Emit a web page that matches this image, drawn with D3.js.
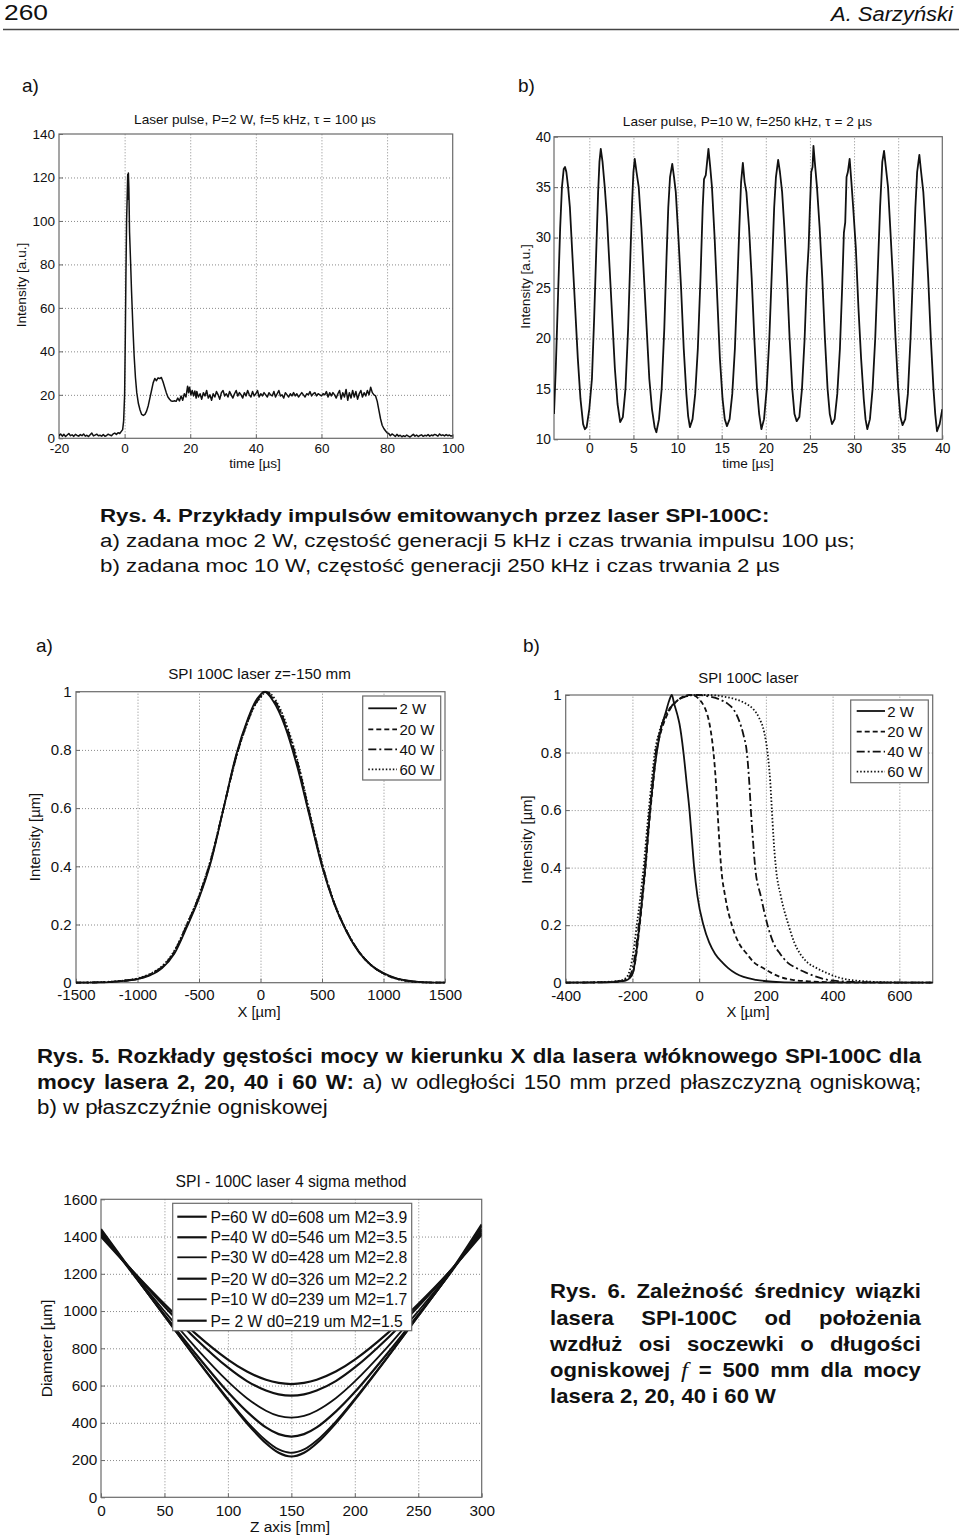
<!DOCTYPE html>
<html><head><meta charset="utf-8">
<script src="https://cdn.jsdelivr.net/npm/d3@7"></script>
<style>body{margin:0;background:#fff}</style>
</head><body>
<script>
// ---------------- DATA ----------------
// Rys. 4a  pulse: [time µs, intensity a.u.]
const pulseA = [[-20,1.2],[-19.5,2],[-19,1],[-18.5,1.8],[-18,0.8],[-17.5,1.5],[-17,2.2],[-16.5,1.2],[-16,1.6],[-15.5,0.9],[-15,1.8],[-14.5,1.3],[-14,1],[-13.5,1.7],[-13,1.2],[-12.5,2],[-12,1],[-11.5,1.4],[-11,0.8],[-10.5,1.6],[-10,2.4],[-9.5,1.1],[-9,1.5],[-8.5,1.9],[-8,1.2],[-7.5,1.4],[-7,1],[-6.5,1.7],[-6,0.9],[-5.5,1.3],[-5,1.9],[-4.5,1.5],[-4,1.2],[-3.5,2],[-3,2.4],[-2.5,1.8],[-2,2.6],[-1.5,2.2],[-1,3.2],[-0.6,4],
[-0.3,8],[0,20],[0.2,45],[0.4,75],[0.6,100],[0.8,112],[0.95,121.5],[1.05,110],[1.15,122],[1.3,115],[1.5,95],[1.8,82],[2.1,68],[2.5,52],[2.9,38],[3.3,28],[3.7,21],[4.2,16],[4.7,13],[5.2,11],[5.7,10.5],[6.2,11],[6.7,12.5],[7.2,15],[7.7,18.5],[8.2,22],[8.7,25.5],[9.2,27.5],[9.7,26.5],[10.2,27.8],[10.7,27.5],[11.2,28],[11.7,26],[12.2,23.5],[12.7,21],[13.2,19],[13.7,18],[14.2,17.2],[14.7,17],[15.2,17.3],[15.7,17],[16.2,18.5],[16.7,17.2],[17.2,19.5],[17.7,17.5],[18.2,20.5],[18.7,19],[19.2,24],[19.5,21],[19.8,23.5],[20.2,20],[20.6,22],[21,19.5],[21.4,21.8],[21.8,18.5],
[22,21.5],[22.5,19],[23,20.5],[23.5,18],[24,21],[24.5,19.5],[25,22],[25.5,18.5],[26,20],[26.5,17.5],[27,20.5],[27.5,19],[28,21.5],[28.5,20],[29,18],[29.5,21],[30,22],[30.5,19.5],[31,20.5],[31.5,19],[32,21.5],[32.5,20],[33,18.5],[33.5,20.5],[34,22],[34.5,19.5],[35,21],[35.5,20],[36,18.5],[36.5,21],[37,19.5],[37.5,22],[38,20],[38.5,19],[39,21.5],[39.5,19.5],[40,20.5],[40.5,22],[41,19],[41.5,20.5],[42,19.5],[42.5,21],[43,20],[43.5,19],[44,21],[44.5,20],[45,19.5],[45.5,21.5],[46,19],[46.5,20.5],[47,22],[47.5,19.5],[48,20],[48.5,18.5],[49,21],[49.5,20],[50,19],[50.5,20.5],[51,19.5],[51.5,21],[52,19.5],[52.5,20.5],[53,19],[53.5,20],[54,21],[54.5,20],[55,19],[55.5,20.5],[56,20],[56.5,21.5],[57,19.5],[57.5,20.5],[58,21],[58.5,19.5],[59,20.5],[59.5,20],[60,19.5],[60.5,20.5],[61,20],[61.5,21.5],[62,19],[62.5,21],[63,19.5],[63.5,21],[64,20],[64.5,18.5],[65,20.5],[65.5,22],[66,18],[66.5,21],[67,19],[67.5,22.5],[68,17.5],[68.5,21],[69,18.5],[69.5,22],[70,19],[70.5,21.5],[71,18],[71.5,20.5],[72,22],[72.5,19],[73,21],[73.5,19.5],[74,22],[74.5,20],[75,23.5],[75.5,21],[76,20],[76.5,19.5],[77,17],[77.5,13],[78,9],[78.5,6],[79,4.5],[79.5,3.5],[80,2.5],[80.5,2.2],[81,1.2],[81.5,2],[82,1.5],[82.5,0.8],[83,1.8],[83.5,1],[84,1.4],[84.5,0.7],[85,1.2],[85.5,0.8],[86,1.5],[86.5,1],[87,0.6],[87.5,1.2],[88,1.8],[88.5,1],[89,1.5],[89.5,0.8],[90,1.3],[90.5,1.6],[91,0.9],[91.5,1.4],[92,1.1],[92.5,1.7],[93,1],[93.5,1.5],[94,1.2],[94.5,1.8],[95,1.5],[95.5,1],[96,2],[96.5,1.3],[97,1.6],[97.5,1.1],[98,1.7],[98.5,1.2],[99,1.5],[99.5,1],[100,1.3]];

// Rys. 4b pulse train
const pulseB = [[-4,12.5],[-3.8,17],[-3.55,24],[-3.3,31],[-3.1,35],[-2.9,36.8],[-2.75,37],[-2.6,36.5],[-2.4,35],[-2.2,33],[-1.9,28],[-1.6,23],[-1.3,18],[-1,14],[-0.7,11.5],[-0.5,11],[-0.3,11.2],
[0,13],[0.3,16],[0.55,22],[0.8,29],[1,34.5],[1.15,37.5],[1.3,38.8],[1.5,37.5],[1.75,35],[2,32],[2.3,27],[2.6,22],[2.9,17],[3.2,13.5],[3.5,11.7],
[3.8,12.2],[4.1,15],[4.4,21],[4.65,28],[4.85,33.5],[5,36.5],[5.15,37.8],[5.35,36.5],[5.6,35],[5.9,31],[6.2,26],[6.5,21],[6.8,16],[7.1,13],[7.4,11.2],[7.6,10.7],
[7.9,12],[8.2,15],[8.5,21],[8.75,28],[8.95,33],[9.15,36],[9.4,37.3],[9.6,36],[9.8,34.5],[10.1,30],[10.4,25],[10.7,19],[11,14.5],[11.2,12.3],[11.4,11.2],
[11.7,12],[12,14.5],[12.3,19],[12.6,26],[12.85,33],[13,35.8],[13.2,36.2],[13.35,37.5],[13.5,38.8],[13.7,37],[13.9,35],[14.2,30],[14.5,24],[14.8,18],[15.1,14],[15.35,12],[15.6,11.3],
[15.9,12],[16.2,14.5],[16.5,19],[16.8,26],[17,31],[17.2,35.5],[17.4,37.4],[17.6,35.5],[17.8,34.5],[18.1,31],[18.4,26],[18.7,20],[19,15],[19.25,12.5],[19.5,11],
[19.8,12],[20.1,15],[20.4,20],[20.7,27],[20.95,33],[21.15,36],[21.4,37.7],[21.6,36.5],[21.85,34.5],[22.1,31],[22.4,26],[22.7,20],[23,15],[23.25,12.5],[23.5,11.8],
[23.8,12.2],[24.1,15],[24.4,20],[24.65,26],[24.85,29],[25,33],[25.15,36.5],[25.3,37],[25.4,39.1],[25.55,37.5],[25.8,35],[26.1,31],[26.4,26],[26.7,20],[27,15],[27.25,12.5],[27.5,11.5],
[27.8,12],[28.1,14.5],[28.4,19],[28.65,25],[28.85,30.5],[29,31.5],[29.15,36],[29.3,36.5],[29.5,37.8],[29.7,35.5],[29.9,33],[30.2,29],[30.5,23],[30.8,18],[31.1,14],[31.3,12],[31.5,11],
[31.8,12],[32.1,15],[32.4,20],[32.7,27],[32.95,33],[33.2,37.5],[33.4,38.6],[33.6,37],[33.85,35],[34.1,31],[34.4,26],[34.7,20],[35,15],[35.25,12.2],[35.5,11.4],
[35.8,12],[36.1,14.5],[36.4,20],[36.7,27],[36.95,33],[37.15,36.5],[37.4,38.2],[37.6,36.5],[37.85,34.5],[38.1,31],[38.4,26],[38.7,20],[39,15],[39.2,12.5],[39.4,10.8],[39.7,11.5],[40,13]];

// Rys. 5a profiles (X µm, normalized intensity)
const profA2 = [[-1500,0],[-1300,0.001],[-1200,0.003],[-1100,0.006],[-1000,0.012],[-900,0.025],[-800,0.05],[-700,0.1],[-600,0.19],[-500,0.29],[-400,0.42],[-300,0.6],[-200,0.78],[-100,0.91],[-50,0.96],[0,0.99],[30,1],[100,0.97],[200,0.88],[300,0.74],[400,0.57],[500,0.4],[600,0.27],[700,0.175],[800,0.105],[900,0.06],[1000,0.033],[1100,0.016],[1200,0.007],[1300,0.002],[1400,0.0005],[1500,0]];
const profA20 = [[-1500,0],[-1300,0.001],[-1200,0.003],[-1100,0.007],[-1000,0.013],[-900,0.027],[-800,0.053],[-700,0.104],[-600,0.195],[-500,0.295],[-400,0.425],[-300,0.6],[-200,0.775],[-100,0.905],[-50,0.955],[0,0.985],[35,1],[100,0.975],[200,0.885],[300,0.75],[400,0.575],[500,0.405],[600,0.272],[700,0.177],[800,0.106],[900,0.06],[1000,0.032],[1100,0.015],[1200,0.006],[1300,0.002],[1400,0.0005],[1500,0]];
const profA40 = [[-1500,0],[-1300,0.0015],[-1200,0.0035],[-1100,0.0075],[-1000,0.014],[-900,0.028],[-800,0.055],[-700,0.107],[-600,0.198],[-500,0.298],[-400,0.428],[-300,0.6],[-200,0.772],[-100,0.902],[-50,0.952],[0,0.982],[40,1],[100,0.98],[200,0.892],[300,0.758],[400,0.58],[500,0.408],[600,0.274],[700,0.178],[800,0.107],[900,0.06],[1000,0.031],[1100,0.015],[1200,0.006],[1300,0.0018],[1400,0.0004],[1500,0]];
const profA60 = [[-1500,0],[-1300,0.002],[-1200,0.004],[-1100,0.008],[-1000,0.015],[-900,0.03],[-800,0.057],[-700,0.11],[-600,0.2],[-500,0.3],[-400,0.43],[-300,0.6],[-200,0.77],[-100,0.9],[-50,0.95],[0,0.98],[45,1],[100,0.985],[200,0.9],[300,0.765],[400,0.585],[500,0.41],[600,0.275],[700,0.178],[800,0.107],[900,0.06],[1000,0.031],[1100,0.014],[1200,0.005],[1300,0.0015],[1400,0.0003],[1500,0]];

// Rys. 5b profiles in focal plane
const profB2 = [[-400,0],[-300,0.001],[-250,0.003],[-220,0.008],[-200,0.03],[-190,0.09],[-180,0.19],[-170,0.3],[-160,0.42],[-150,0.56],[-140,0.68],[-127,0.8],[-115,0.88],[-100,0.94],[-90,0.98],[-82,1],[-75,0.97],[-65,0.93],[-59,0.9],[-47,0.8],[-38,0.7],[-29,0.6],[-22,0.5],[-15,0.4],[-5,0.3],[13,0.2],[30,0.14],[48,0.1],[70,0.07],[88,0.05],[110,0.032],[133,0.02],[170,0.01],[203,0.005],[243,0.002],[300,0.0005],[400,0],[700,0]];
const profB20 = [[-400,0],[-300,0.001],[-250,0.003],[-220,0.008],[-200,0.03],[-190,0.085],[-180,0.18],[-170,0.29],[-160,0.41],[-150,0.55],[-140,0.67],[-128,0.8],[-115,0.87],[-100,0.92],[-85,0.955],[-70,0.975],[-55,0.99],[-40,0.998],[-30,1],[-15,0.998],[0,0.985],[15,0.96],[25,0.93],[31,0.9],[38,0.85],[43,0.8],[50,0.7],[55,0.6],[60,0.5],[66,0.4],[78,0.3],[98,0.2],[118,0.14],[143,0.1],[165,0.07],[193,0.05],[215,0.035],[243,0.02],[280,0.01],[323,0.005],[380,0.002],[450,0.0005],[550,0],[700,0]];
const profB40 = [[-400,0],[-300,0.001],[-250,0.004],[-220,0.01],[-205,0.03],[-193,0.09],[-183,0.18],[-172,0.29],[-162,0.41],[-152,0.55],[-142,0.67],[-130,0.8],[-118,0.87],[-100,0.93],[-80,0.965],[-60,0.985],[-40,0.995],[-20,1],[0,1],[30,0.995],[60,0.985],[85,0.97],[103,0.95],[120,0.91],[133,0.86],[143,0.8],[150,0.7],[155,0.6],[161,0.5],[168,0.4],[185,0.3],[205,0.2],[222,0.14],[243,0.1],[265,0.07],[293,0.05],[320,0.035],[353,0.02],[385,0.01],[423,0.005],[480,0.002],[550,0.0005],[650,0],[700,0]];
const profB60 = [[-400,0],[-300,0.002],[-250,0.005],[-225,0.012],[-210,0.035],[-198,0.1],[-187,0.2],[-176,0.3],[-165,0.42],[-155,0.55],[-145,0.67],[-133,0.8],[-120,0.87],[-100,0.93],[-80,0.965],[-60,0.985],[-40,0.995],[-10,1],[30,1],[70,0.995],[110,0.985],[140,0.97],[163,0.95],[180,0.92],[195,0.87],[205,0.8],[213,0.7],[218,0.6],[223,0.5],[230,0.4],[245,0.3],[268,0.2],[285,0.14],[303,0.1],[325,0.07],[353,0.05],[380,0.035],[413,0.02],[450,0.01],[493,0.005],[543,0.002],[600,0.0005],[650,0],[700,0]];

// Rys. 6 beam diameter vs z
const zAxis = [0,25,50,75,100,115,130,140,150,160,170,185,200,225,250,275,300];
const diam60 = [1400,1214,1038,876,739,675,631,614,608,614,631,675,739,876,1038,1214,1410];
const diam40 = [1410,1214,1025,849,697,624,573,553,546,553,573,624,697,849,1025,1214,1420];
const diam30 = [1420,1206,999,801,622,532,465,437,428,437,465,532,622,801,999,1206,1430];
const diam20 = [1425,1201,981,767,565,460,375,339,326,339,375,460,565,767,981,1201,1440];
const diam10 = [1435,1203,973,746,529,407,305,257,239,257,305,407,529,746,973,1203,1455];
const diam2  = [1440,1206,974,745,523,398,290,239,219,239,290,398,523,745,974,1206,1465];
const diamLegend = ["P=60 W d0=608 um M2=3.9","P=40 W d0=546 um M2=3.5","P=30 W d0=428 um M2=2.8","P=20 W d0=326 um M2=2.2","P=10 W d0=239 um M2=1.7","P= 2 W d0=219 um M2=1.5"];
const powerLegend = ["2 W","20 W","40 W","60 W"];

// tick values
const ticks4aX = [-20,0,20,40,60,80,100], ticks4aY = [0,20,40,60,80,100,120,140];
const ticks4bX = [0,5,10,15,20,25,30,35,40], ticks4bY = [10,15,20,25,30,35,40];
const ticks5aX = [-1500,-1000,-500,0,500,1000,1500], ticks5Y = [0,0.2,0.4,0.6,0.8,1];
const ticks5bX = [-400,-200,0,200,400,600];
const ticks6X = [0,50,100,150,200,250,300], ticks6Y = [0,200,400,600,800,1000,1200,1400,1600];

// ---------------- DRAWING ----------------
const FONT = "'Liberation Sans', Arial, Helvetica, sans-serif";
const INK = "#111";
const svg = d3.select("body").append("svg").attr("width",960).attr("height",1540)
  .attr("font-family",FONT);
svg.append("rect").attr("width",960).attr("height",1540).attr("fill","#fff");

function tline(x, y, segs, size, mode, width, sxIn) {
  const t = svg.append("text").attr("x",0).attr("y",0).attr("font-size",size)
    .attr("fill",INK).style("white-space","pre");
  segs.forEach(s => {
    const ts = t.append("tspan").text(s.t);
    if (s.b) ts.attr("font-weight","bold");
    if (s.i) ts.attr("font-style","italic");
    if (s.f) ts.attr("font-family", s.f);
    if (s.fs) ts.attr("font-size", s.fs);
  });
  const w = t.node().getComputedTextLength();
  let sx = sxIn || 1;
  if (mode === "fit") sx = width / w;
  if (mode === "justify") {
    const n = segs.map(s => s.t).join("").split(" ").length - 1;
    t.style("word-spacing", ((width / sx - w) / n) + "px");
  }
  t.attr("transform", `translate(${x},${y}) scale(${sx},1)`);
  return sx;
}

let clipN = 0;
function panel(p) {
  const x = d3.scaleLinear().domain(p.xd).range([p.x0, p.x1]);
  const y = d3.scaleLinear().domain(p.yd).range([p.y1, p.y0]);
  const W = p.x1 - p.x0, H = p.y1 - p.y0;
  const g = svg.append("g");
  const gridStyle = s => { s.select(".domain").remove();
    s.selectAll("line").attr("stroke","#8a8a8a").attr("stroke-width",1).attr("stroke-dasharray","1,2"); };
  g.append("g").attr("transform",`translate(0,${p.y1})`)
    .call(d3.axisBottom(x).tickValues(p.gx).tickSize(-H).tickFormat("")).call(gridStyle);
  g.append("g").attr("transform",`translate(${p.x0},0)`)
    .call(d3.axisLeft(y).tickValues(p.gy).tickSize(-W).tickFormat("")).call(gridStyle);
  g.append("rect").attr("x",p.x0).attr("y",p.y0).attr("width",W).attr("height",H)
    .attr("fill","none").attr("stroke","#6a6a6a").attr("stroke-width",1.2);
  const fmt = d => String(d);
  const xa = g.append("g").attr("transform",`translate(0,${p.y1})`)
    .call(d3.axisBottom(x).tickValues(p.xt).tickSizeInner(-4).tickSizeOuter(0).tickPadding(p.xpad).tickFormat(fmt));
  const ya = g.append("g").attr("transform",`translate(${p.x0},0)`)
    .call(d3.axisLeft(y).tickValues(p.yt).tickSizeInner(-4).tickSizeOuter(0).tickPadding(p.ypad).tickFormat(fmt));
  [xa, ya].forEach(a => {
    a.select(".domain").remove();
    a.selectAll("line").attr("stroke","#6a6a6a");
    a.attr("font-size", p.fs).attr("font-family", FONT);
    a.selectAll("text").attr("fill", INK);
  });
  const id = "clip" + (++clipN);
  svg.append("clipPath").attr("id", id).append("rect")
    .attr("x",p.x0).attr("y",p.y0 - 1).attr("width",W).attr("height",H + 2);
  const plot = g.append("g").attr("clip-path",`url(#${id})`);
  g.append("text").attr("x",p.titleX).attr("y",p.titleY).attr("text-anchor","middle")
    .attr("font-size",p.titleFs).attr("fill",INK).text(p.title);
  g.append("text").attr("x",p.xlabX).attr("y",p.xlabY).attr("text-anchor","middle")
    .attr("font-size",p.labFs).attr("fill",INK).text(p.xlab);
  g.append("text").attr("transform",`translate(${p.ylabX},${p.ylabY}) rotate(-90)`)
    .attr("text-anchor","middle").attr("font-size",p.labFs).attr("fill",INK).text(p.ylab);
  return {x, y, g, plot};
}

// ---- page header ----
tline(4, 20, [{t:"260"}], 22, "fit", 44);
tline(831, 20.5, [{t:"A. Sarzyński", i:true}], 21, "fit", 122);
svg.append("line").attr("x1",3).attr("x2",959).attr("y1",29.5).attr("y2",29.5)
  .attr("stroke","#444").attr("stroke-width",1.3);
svg.append("text").attr("x",22).attr("y",92).attr("font-size",19).attr("fill",INK).text("a)");
svg.append("text").attr("x",518).attr("y",92).attr("font-size",19).attr("fill",INK).text("b)");

// ---- Rys 4a ----
{
  const P = panel({x0:59, x1:452.7, y0:134, y1:438.3, xd:[-20,100], yd:[0,140],
    gx:[0,20,40,60,80], gy:[20,40,60,80,100,120], xt:ticks4aX, yt:ticks4aY,
    xpad:5.2, ypad:4, fs:13.5,
    title:"Laser pulse, P=2 W, f=5 kHz, τ = 100 µs", titleX:255, titleY:123.5, titleFs:13.6,
    xlab:"time [µs]", xlabX:255, xlabY:467.5, ylab:"Intensity [a.u.]", ylabX:25.5, ylabY:285, labFs:13.6});
  P.plot.append("path").datum(pulseA).attr("fill","none").attr("stroke","#111").attr("stroke-width",1.5)
    .attr("stroke-linejoin","round")
    .attr("d", d3.line().x(d => P.x(d[0])).y(d => P.y(d[1])));
}
// ---- Rys 4b ----
{
  const P = panel({x0:554, x1:942.3, y0:136.7, y1:439.3, xd:[-4,40], yd:[10,40],
    gx:[0,5,10,15,20,25,30,35], gy:[15,20,25,30,35], xt:ticks4bX, yt:ticks4bY,
    xpad:4.2, ypad:3, fs:13.8,
    title:"Laser pulse, P=10 W, f=250 kHz, τ = 2 µs", titleX:747.5, titleY:125.5, titleFs:13.6,
    xlab:"time [µs]", xlabX:748, xlabY:467.5, ylab:"Intensity [a.u.]", ylabX:530, ylabY:286.5, labFs:13.6});
  P.plot.append("path").datum(pulseB).attr("fill","none").attr("stroke","#111").attr("stroke-width",1.8)
    .attr("stroke-linejoin","round")
    .attr("d", d3.line().x(d => P.x(d[0])).y(d => P.y(d[1])));
}

// ---- Rys 4 caption ----
tline(100, 521.5, [{t:"Rys. 4. Przykłady impulsów emitowanych przez laser SPI-100C:", b:true}], 19, "fit", 670);
tline(100, 546.5, [{t:"a) zadana moc 2 W, częstość generacji 5 kHz i czas trwania impulsu 100 µs;"}], 19, "fit", 755);
tline(100, 571.5, [{t:"b) zadana moc 10 W, częstość generacji 250 kHz i czas trwania 2 µs"}], 19, "fit", 680);

svg.append("text").attr("x",36).attr("y",652).attr("font-size",19).attr("fill",INK).text("a)");
svg.append("text").attr("x",523).attr("y",652).attr("font-size",19).attr("fill",INK).text("b)");

const dashes = ["none","5,3","8,3,2,3","1.5,2"];

// ---- Rys 5a ----
{
  const P = panel({x0:76, x1:445, y0:691.7, y1:982.7, xd:[-1500,1500], yd:[0,1],
    gx:[-1000,-500,0,500,1000], gy:[0.2,0.4,0.6,0.8], xt:ticks5aX, yt:ticks5Y,
    xpad:6.6, ypad:4.3, fs:15,
    title:"SPI 100C laser z=-150 mm", titleX:259.5, titleY:679, titleFs:15.2,
    xlab:"X [µm]", xlabX:259, xlabY:1016.5, ylab:"Intensity [µm]", ylabX:40.3, ylabY:837, labFs:14.8});
  const line = d3.line().curve(d3.curveMonotoneX).x(d => P.x(d[0])).y(d => P.y(d[1]));
  [profA60, profA40, profA20, profA2].forEach((s, i) => {
    P.plot.append("path").datum(s).attr("fill","none").attr("stroke","#111").attr("stroke-width",1.8)
      .attr("stroke-dasharray", dashes[3 - i]).attr("d", line);
  });
  const L = P.g.append("g");
  L.append("rect").attr("x",362.7).attr("y",696).attr("width",78).attr("height",84)
    .attr("fill","#fff").attr("stroke","#6a6a6a").attr("stroke-width",1.2);
  powerLegend.forEach((t, i) => {
    const ly = [708.3,729.3,749.3,769.3][i];
    L.append("line").attr("x1",368.3).attr("x2",397).attr("y1",ly).attr("y2",ly)
      .attr("stroke","#111").attr("stroke-width",1.8).attr("stroke-dasharray",dashes[i]);
    L.append("text").attr("x",399.5).attr("y",ly + 5.7).attr("font-size",15).attr("fill",INK).text(t);
  });
}
// ---- Rys 5b ----
{
  const P = panel({x0:565.7, x1:932.7, y0:695, y1:982.7, xd:[-400,700], yd:[0,1],
    gx:[-200,0,200,400,600], gy:[0.2,0.4,0.6,0.8], xt:ticks5bX, yt:ticks5Y,
    xpad:7.3, ypad:4, fs:15,
    title:"SPI 100C laser", titleX:748.3, titleY:682.5, titleFs:14.9,
    xlab:"X [µm]", xlabX:748, xlabY:1016.5, ylab:"Intensity [µm]", ylabX:532, ylabY:839.5, labFs:14.8});
  const line = d3.line().curve(d3.curveMonotoneX).x(d => P.x(d[0])).y(d => P.y(d[1]));
  [profB60, profB40, profB20, profB2].forEach((s, i) => {
    P.plot.append("path").datum(s).attr("fill","none").attr("stroke","#111").attr("stroke-width",1.8)
      .attr("stroke-dasharray", dashes[3 - i]).attr("d", line);
  });
  const L = P.g.append("g");
  L.append("rect").attr("x",850.7).attr("y",700).attr("width",77.6).attr("height",82.7)
    .attr("fill","#fff").attr("stroke","#6a6a6a").attr("stroke-width",1.2);
  powerLegend.forEach((t, i) => {
    const ly = [711,731.7,751.7,771.7][i];
    L.append("line").attr("x1",856.7).attr("x2",885).attr("y1",ly).attr("y2",ly)
      .attr("stroke","#111").attr("stroke-width",1.8).attr("stroke-dasharray",dashes[i]);
    L.append("text").attr("x",887.3).attr("y",ly + 5.7).attr("font-size",15).attr("fill",INK).text(t);
  });
}

// ---- Rys 5 caption ----
{
  const sx = tline(37, 1114, [{t:"b) w płaszczyźnie ogniskowej"}], 21, "fit", 291);
  tline(37, 1063, [{t:"Rys. 5. Rozkłady gęstości mocy w kierunku X dla lasera włóknowego SPI-100C dla", b:true}], 21, "justify", 885, sx);
  tline(37, 1089, [{t:"mocy lasera 2, 20, 40 i 60 W:", b:true},{t:" a) w odległości 150 mm przed płaszczyzną ogniskową;"}], 21, "justify", 885, sx);
}

// ---- Rys 6 chart ----
{
  const P = panel({x0:101, x1:481.7, y0:1199.3, y1:1497.3, xd:[0,300], yd:[0,1600],
    gx:[50,100,150,200,250], gy:[200,400,600,800,1000,1200,1400], xt:ticks6X, yt:ticks6Y,
    xpad:7.6, ypad:3.7, fs:15.3,
    title:"SPI - 100C laser 4 sigma method", titleX:291, titleY:1186.5, titleFs:15.7,
    xlab:"Z axis [mm]", xlabX:290, xlabY:1532, ylab:"Diameter [µm]", ylabX:52, ylabY:1348.5, labFs:15.5});
  const line = d3.line().curve(d3.curveCatmullRom).x((d, i) => P.x(zAxis[i])).y(d => P.y(d));
  const series = [diam60, diam40, diam30, diam20, diam10, diam2];
  const widths = [2.2, 2.2, 1.8, 2.2, 1.8, 2.2];
  series.forEach((s, i) => {
    P.plot.append("path").datum(s).attr("fill","none").attr("stroke","#111")
      .attr("stroke-width",widths[i]).attr("d", line);
  });
  const L = P.g.append("g");
  L.append("rect").attr("x",172.7).attr("y",1203.3).attr("width",239).attr("height",127.4)
    .attr("fill","#fff").attr("stroke","#6a6a6a").attr("stroke-width",1.2);
  diamLegend.forEach((t, i) => {
    const ly = [1216.7,1237.3,1257.3,1278.7,1299.3,1320.7][i];
    L.append("line").attr("x1",177.3).attr("x2",206.7).attr("y1",ly).attr("y2",ly)
      .attr("stroke","#111").attr("stroke-width",widths[i]);
    L.append("text").attr("x",210.5).attr("y",ly + 6).attr("font-size",15.7).attr("fill",INK)
      .style("white-space","pre").text(t);
  });
}

// ---- Rys 6 caption ----
{
  const sx = tline(550, 1403, [{t:"lasera 2, 20, 40 i 60 W", b:true}], 19.5, "fit", 226);
  tline(550, 1298.3, [{t:"Rys. 6. Zależność średnicy wiązki", b:true}], 19.5, "justify", 371, sx);
  tline(550, 1324.8, [{t:"lasera SPI-100C od położenia", b:true}], 19.5, "justify", 371, sx);
  tline(550, 1351.3, [{t:"wzdłuż osi soczewki o długości", b:true}], 19.5, "justify", 371, sx);
  tline(550, 1377, [{t:"ogniskowej ", b:true},{t:"f", i:true, f:"'Liberation Serif', 'Times New Roman', serif", fs:22},{t:" = 500 mm dla mocy", b:true}], 19.5, "justify", 371, sx);
}
</script>
</body></html>
